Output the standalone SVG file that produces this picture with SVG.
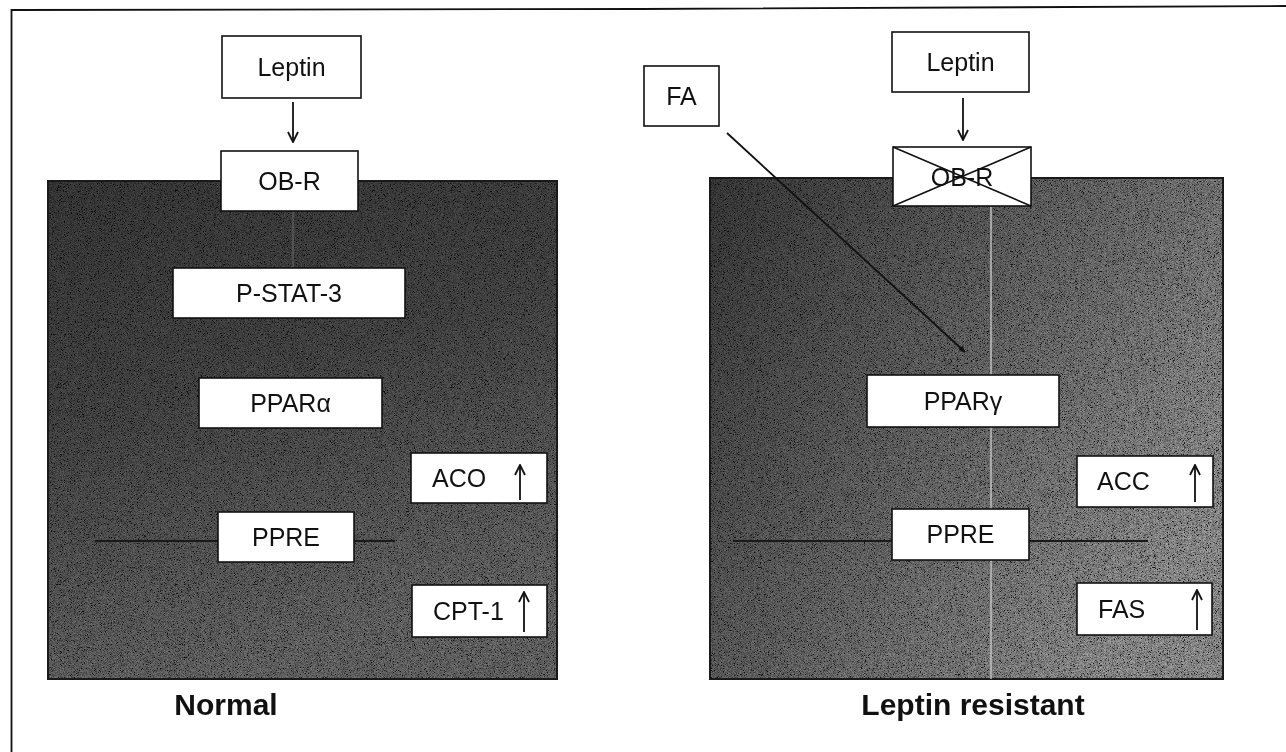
<svg xmlns="http://www.w3.org/2000/svg" width="1286" height="752" viewBox="0 0 1286 752">
  <defs>
    <style>
      .box { fill: #ffffff; stroke: #111111; stroke-width: 1.6; }
      .lbl { font-family: "Liberation Sans", Arial, sans-serif; font-size: 25px; fill: #111111; }
      .title { font-family: "Liberation Sans", Arial, sans-serif; font-size: 30px; font-weight: bold; fill: #111111; }
      .edge { stroke: #111111; stroke-width: 1.8; fill: none; }
      .dna { stroke: #1a1a1a; stroke-width: 2.2; fill: none; }
    </style>
    <marker id="vee" viewBox="0 0 12 12" refX="11" refY="6" markerWidth="12" markerHeight="12" markerUnits="userSpaceOnUse" orient="auto">
      <path d="M1,1 L11,6 L1,11" fill="none" stroke="#111111" stroke-width="1.8"/>
    </marker>
    <marker id="tip" viewBox="0 0 10 10" refX="9" refY="5" markerWidth="7" markerHeight="7" markerUnits="userSpaceOnUse" orient="auto">
      <path d="M0,1 L10,5 L0,9 Z" fill="#111111"/>
    </marker>
    <linearGradient id="cellA" x1="0" y1="0" x2="0.3" y2="1">
      <stop offset="0" stop-color="#262626"/>
      <stop offset="0.45" stop-color="#2e2e2e"/>
      <stop offset="1" stop-color="#444444"/>
    </linearGradient>
    <linearGradient id="cellB" x1="0" y1="0" x2="1" y2="0.6">
      <stop offset="0" stop-color="#262626"/>
      <stop offset="0.5" stop-color="#424242"/>
      <stop offset="1" stop-color="#606060"/>
    </linearGradient>
    <!-- fine speckle used to texture the cell panels -->
    <filter id="grain" x="0" y="0" width="1" height="1">
      <feTurbulence type="fractalNoise" baseFrequency="1.3" numOctaves="2" seed="7" result="n"/>
      <feColorMatrix in="n" type="matrix" values="1.3 1.3 1.3 0 -1.45  1.3 1.3 1.3 0 -1.45  1.3 1.3 1.3 0 -1.45  0 0 0 0 1"/>
    </filter>
  </defs>

  <rect width="1286" height="752" fill="#ffffff"/>

  <!-- outer frame: top and left rules -->
  <path d="M11.5,752 L11.5,10 L640,9 L1286,6" fill="none" stroke="#111111" stroke-width="1.8"/>

  <!-- cell panels -->
  <g id="panel-normal">
    <rect x="48" y="181" width="509" height="498" fill="url(#cellA)"/>
    <rect x="48" y="181" width="509" height="498" filter="url(#grain)" opacity="0.75" style="mix-blend-mode:overlay"/>
    <rect x="48" y="181" width="509" height="498" fill="none" stroke="#1a1a1a" stroke-width="2"/>
  </g>
  <g id="panel-resistant">
    <rect x="710" y="178" width="513" height="501" fill="url(#cellB)"/>
    <rect x="710" y="178" width="513" height="501" filter="url(#grain)" opacity="0.75" style="mix-blend-mode:overlay"/>
    <rect x="710" y="178" width="513" height="501" fill="none" stroke="#1a1a1a" stroke-width="2"/>
    <line x1="991" y1="207" x2="991" y2="679" stroke="#c8c8c8" stroke-width="2" opacity="0.7"/>
  </g>

  <!-- connectors -->
  <g id="connectors">
    <line class="edge" x1="293" y1="102" x2="293" y2="142" marker-end="url(#vee)"/>
    <line class="edge" x1="963" y1="98" x2="963" y2="140" marker-end="url(#vee)"/>
    <line x1="293" y1="211" x2="293" y2="268" stroke="#6a6a6a" stroke-width="2" opacity="0.5"/>
    <line class="edge" x1="727" y1="133" x2="965" y2="352" stroke-width="1.6" marker-end="url(#tip)"/>
    <!-- promoter strands -->
    <line class="dna" x1="95" y1="541" x2="218" y2="541"/>
    <line class="dna" x1="354" y1="541" x2="395" y2="541"/>
    <line class="dna" x1="733" y1="541" x2="892" y2="541"/>
    <line class="dna" x1="1029" y1="541" x2="1148" y2="541"/>
  </g>

  <!-- Normal side -->
  <g id="leptin-n">
    <rect class="box" x="222" y="36" width="139" height="62"/>
    <text class="lbl" x="291.5" y="76" text-anchor="middle">Leptin</text>
  </g>
  <g id="obr-n">
    <rect class="box" x="221" y="151" width="137" height="60"/>
    <text class="lbl" x="289.5" y="190" text-anchor="middle">OB-R</text>
  </g>
  <g id="pstat3">
    <rect class="box" x="173" y="268" width="232" height="50"/>
    <text class="lbl" x="289" y="302" text-anchor="middle">P-STAT-3</text>
  </g>
  <g id="ppara">
    <rect class="box" x="199" y="378" width="183" height="50"/>
    <text class="lbl" x="290.5" y="412" text-anchor="middle">PPARα</text>
  </g>
  <g id="ppre-n">
    <rect class="box" x="218" y="512" width="136" height="50"/>
    <text class="lbl" x="286" y="546" text-anchor="middle">PPRE</text>
  </g>
  <g id="aco">
    <rect class="box" x="411" y="453" width="136" height="50"/>
    <text class="lbl" x="432" y="487">ACO</text>
    <line class="edge" x1="520" y1="500" x2="520" y2="465" marker-end="url(#vee)"/>
  </g>
  <g id="cpt1">
    <rect class="box" x="412" y="585" width="135" height="52"/>
    <text class="lbl" x="433" y="620">CPT-1</text>
    <line class="edge" x1="524" y1="632" x2="524" y2="592" marker-end="url(#vee)"/>
  </g>
  <g id="title-normal">
    <text class="title" x="226" y="715" text-anchor="middle">Normal</text>
  </g>

  <!-- Leptin resistant side -->
  <g id="fa">
    <rect class="box" x="644" y="66" width="75" height="60"/>
    <text class="lbl" x="681.5" y="105" text-anchor="middle">FA</text>
  </g>
  <g id="leptin-r">
    <rect class="box" x="892" y="32" width="137" height="60"/>
    <text class="lbl" x="960.5" y="71" text-anchor="middle">Leptin</text>
  </g>
  <g id="obr-r">
    <rect class="box" x="893" y="147" width="138" height="59"/>
    <text class="lbl" x="962" y="186" text-anchor="middle">OB-R</text>
    <path d="M893,147 L1031,206 M893,206 L1031,147" stroke="#111111" stroke-width="1.6" fill="none"/>
  </g>
  <g id="pparg">
    <rect class="box" x="867" y="375" width="192" height="52"/>
    <text class="lbl" x="963" y="410" text-anchor="middle">PPARγ</text>
  </g>
  <g id="ppre-r">
    <rect class="box" x="892" y="509" width="137" height="51"/>
    <text class="lbl" x="960.5" y="543" text-anchor="middle">PPRE</text>
  </g>
  <g id="acc">
    <rect class="box" x="1077" y="456" width="136" height="51"/>
    <text class="lbl" x="1097" y="490">ACC</text>
    <line class="edge" x1="1195" y1="502" x2="1195" y2="465" marker-end="url(#vee)"/>
  </g>
  <g id="fas">
    <rect class="box" x="1077" y="583" width="135" height="52"/>
    <text class="lbl" x="1098" y="618">FAS</text>
    <line class="edge" x1="1197" y1="630" x2="1197" y2="590" marker-end="url(#vee)"/>
  </g>
  <g id="title-resistant">
    <text class="title" x="973" y="715" text-anchor="middle">Leptin resistant</text>
  </g>
</svg>
